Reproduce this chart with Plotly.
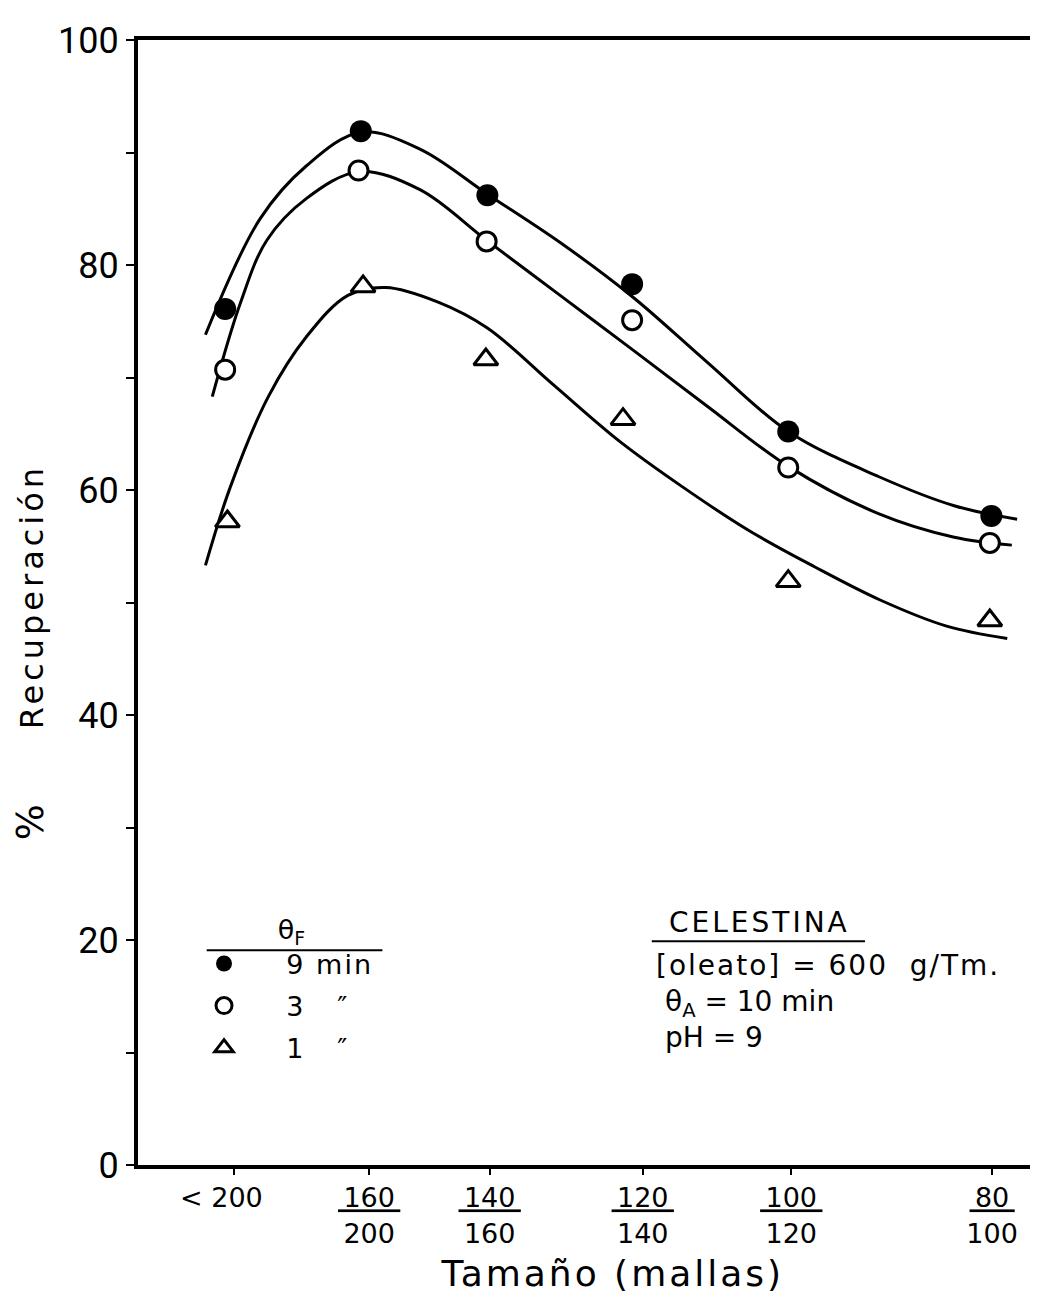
import plotly.graph_objects as go

# ---------------- data ----------------
size_labels = ["< 200", "160/200", "140/160", "120/140", "100/120", "80/100"]
size_pos = [0.0, 1.78, 3.37, 5.39, 7.35, 10.0]

# measured points (theta_F = 9, 3, 1 min)
x_9 = [-0.12, 1.67, 3.34, 5.25, 7.31, 9.99]
y_9 = [76.1, 91.9, 86.2, 78.3, 65.2, 57.7]
x_3 = [-0.12, 1.64, 3.33, 5.25, 7.31, 9.97]
y_3 = [70.7, 88.4, 82.1, 75.1, 62.0, 55.3]
x_1 = [-0.09, 1.70, 3.32, 5.13, 7.31, 9.97]
y_1 = [57.2, 78.1, 71.6, 66.3, 51.9, 48.4]

# hand-drawn fitted curves
fit_9_x = [-0.38, 0.34, 0.95, 1.67, 2.45, 3.34, 4.30, 5.25, 6.25, 7.31, 8.50, 9.50, 10.33]
fit_9_y = [73.8, 84.1, 88.8, 91.8, 90.3, 86.3, 82.0, 77.2, 71.3, 65.2, 61.2, 58.6, 57.4]
fit_3_x = [-0.29, 0.08, 0.43, 0.95, 1.65, 2.45, 3.33, 4.30, 5.25, 6.25, 7.31, 8.50, 9.50, 10.26]
fit_3_y = [68.3, 76.6, 82.2, 85.9, 88.3, 86.7, 82.2, 77.3, 72.5, 67.4, 62.1, 57.9, 55.8, 55.1]
fit_1_x = [-0.38, -0.05, 0.45, 0.95, 1.50, 2.00, 2.69, 3.34, 4.22, 5.09, 5.91, 6.79, 7.65, 8.53, 9.40, 10.20]
fit_1_y = [53.3, 60.3, 68.3, 73.6, 77.3, 78.0, 76.7, 74.4, 69.3, 64.3, 60.3, 56.4, 53.2, 50.2, 47.9, 46.8]

series_labels = ["9 min", "3\u00a0\u00a0\u00a0\u2033", "1\u00a0\u00a0\u00a0\u2033"]
y_ticks = [0, 20, 40, 60, 80, 100]

# ---------------- figure ----------------
FONT = "DejaVu Sans"
BLACK = "#000000"
NB = "\u00a0"

def spaced(txt, px):
    return f"<span style='letter-spacing:{px}px'>{txt}</span>"

fig = go.Figure()

for fx, fy in [(fit_9_x, fit_9_y), (fit_3_x, fit_3_y), (fit_1_x, fit_1_y)]:
    fig.add_trace(go.Scatter(
        x=fx, y=fy, mode="lines", showlegend=False, hoverinfo="skip",
        line=dict(color=BLACK, width=3, shape="spline", smoothing=1.0),
    ))

marker_styles = [
    dict(symbol="circle", size=22, color=BLACK, line=dict(color=BLACK, width=0)),
    dict(symbol="circle", size=19, color="white", line=dict(color=BLACK, width=3)),
    dict(symbol="triangle-up", size=21, color="white", line=dict(color=BLACK, width=3)),
]
for i, (px_, py_) in enumerate([(x_9, y_9), (x_3, y_3), (x_1, y_1)]):
    fig.add_trace(go.Scatter(
        x=px_, y=py_, mode="markers", name=spaced(NB * 4 + series_labels[i], 2),
        legendgroup=f"g{i}", marker=marker_styles[i],
    ))

def tick_text(lbl):
    if "/" in lbl:
        num, den = lbl.split("/")
        return f"<u>\u2009{num}\u2009</u><br>{den}"
    return lbl + NB * 3

ytitle = ("<span style='font-size:38px;letter-spacing:4px'>%</span>"
          + spaced(NB * 5 + "Recuperación" + NB * 7, 4))
xtitle = spaced(NB * 4 + "Tamaño (mallas)", 3)

fig.update_layout(
    width=1038, height=1302,
    margin=dict(l=123, r=14, t=25, b=145),
    paper_bgcolor="white", plot_bgcolor="white",
    font=dict(family=FONT, color=BLACK),
    xaxis=dict(
        range=[-1.27, 10.5],
        tickvals=size_pos, ticktext=[tick_text(s) for s in size_labels],
        tickfont=dict(size=27, family=FONT),
        ticks="outside", ticklen=6, tickwidth=2, tickcolor=BLACK,
        showgrid=False, zeroline=False,
        showline=True, linewidth=4, linecolor=BLACK, mirror=True,
        title=dict(text=xtitle, font=dict(size=36, family=FONT), standoff=14),
    ),
    yaxis=dict(
        range=[0, 100],
        tickvals=y_ticks,
        tickfont=dict(size=36, family="Roboto"),
        ticks="outside", ticklen=8, tickwidth=2, tickcolor=BLACK,
        minor=dict(dtick=10, ticks="outside", ticklen=8, tickwidth=2, tickcolor=BLACK),
        showgrid=False, zeroline=False,
        showline=True, linewidth=4, linecolor=BLACK, mirror=True,
        title=dict(text=ytitle, font=dict(size=32, family=FONT), standoff=16),
    ),
    legend=dict(
        x=0.074, y=0.2317, xanchor="left", yanchor="top",
        bgcolor="rgba(0,0,0,0)", borderwidth=0,
        font=dict(size=27, family=FONT),
        title=dict(text="θ<sub>F</sub>", side="top center", font=dict(size=27, family=FONT)),
        tracegroupgap=4, itemwidth=30, traceorder="grouped",
    ),
    showlegend=True,
)

# legend title rule and info block rule
fig.add_shape(type="line", xref="paper", yref="paper", x0=0.077, x1=0.274, y0=0.191, y1=0.191,
              line=dict(color=BLACK, width=2))
fig.add_shape(type="line", xref="paper", yref="paper", x0=0.576, x1=0.815, y0=0.199, y1=0.199,
              line=dict(color=BLACK, width=2))

info_lines = [
    (spaced("CELESTINA", 3), 0.593, 0.216),
    (spaced("[oleato] = 600  g/Tm.", 2), 0.579, 0.177),
    ("θ<sub>A</sub> = 10 min", 0.589, 0.144),
    ("pH = 9", 0.589, 0.113),
]
for txt, ax, ay in info_lines:
    fig.add_annotation(text=txt, xref="paper", yref="paper", x=ax, y=ay,
                       xanchor="left", yanchor="middle", showarrow=False,
                       font=dict(size=28, family=FONT, color=BLACK))

fig.write_html("out.html")
